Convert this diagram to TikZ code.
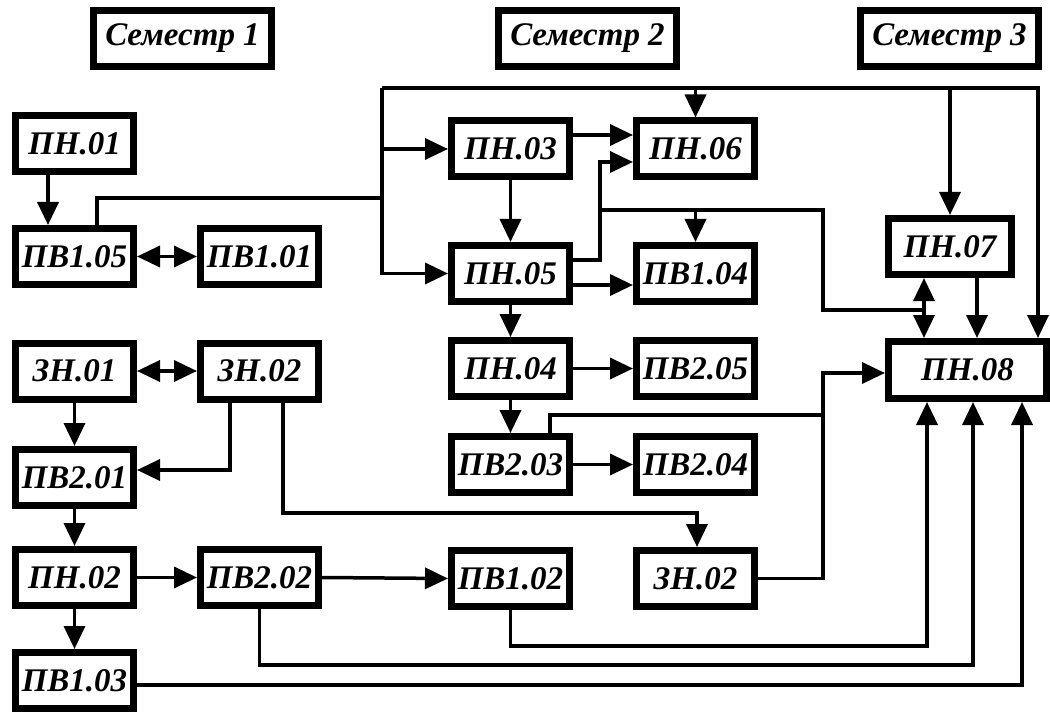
\documentclass[tikz,border=0pt]{standalone}
\usepackage{fontspec}
\setmainfont{Liberation Serif}
\usetikzlibrary{arrows.meta}
\begin{document}
\begin{tikzpicture}[x=1pt,y=-1pt,
  box/.style={draw, line width=7pt, fill=white, inner sep=0pt,
    minimum width=118pt, minimum height=56pt,
    font=\fontsize{33}{36}\selectfont\bfseries\itshape},
  sem/.style={box, minimum width=178pt},
  wire/.style={line width=3.5pt},
  arr/.style={wire, -{Triangle[length=23pt,width=21pt]}},
  darr/.style={wire, {Triangle[length=23pt,width=21pt]}-{Triangle[length=23pt,width=21pt]}}]
\useasboundingbox (0,0) rectangle (1050,714);
% semesters
\node[sem] (s1) at (182.5,38.5) {Семестр 1};
\node[sem] (s2) at (587.5,38.5) {Семестр 2};
\node[sem] (s3) at (949.5,38.5) {Семестр 3};
% column 1
\node[box] (pn01)  at (74.5,143.5) {ПН.01};
\node[box] (pv105) at (74.5,256.5) {ПВ1.05};
\node[box] (zn01)  at (74.5,371)   {ЗН.01};
\node[box] (pv201) at (74.5,477.5) {ПВ2.01};
\node[box] (pn02)  at (74.5,577.5) {ПН.02};
\node[box] (pv103) at (74.5,680.5) {ПВ1.03};
% column 2
\node[box] (pv101) at (259.5,256.5) {ПВ1.01};
\node[box] (zn02)  at (259.5,371)   {ЗН.02};
\node[box] (pv202) at (259.5,577.5) {ПВ2.02};
% column 3
\node[box] (pn03)  at (510.5,149)   {ПН.03};
\node[box] (pn05)  at (510.5,273.5) {ПН.05};
\node[box] (pn04)  at (510.5,368.5) {ПН.04};
\node[box] (pv203) at (510.5,464.5) {ПВ2.03};
\node[box] (pv102) at (510.5,578.5) {ПВ1.02};
% column 4
\node[box] (pn06)  at (695.5,149)   {ПН.06};
\node[box] (pv104) at (695.5,273.5) {ПВ1.04};
\node[box] (pv205) at (695.5,368.5) {ПВ2.05};
\node[box] (pv204) at (695.5,464.5) {ПВ2.04};
\node[box] (zn02b) at (695.5,578.5) {ЗН.02};
% column 5
\node[box, minimum width=123pt] (pn07) at (950,246.5) {ПН.07};
\node[box, minimum width=158pt, minimum height=57pt] (pn08) at (967.5,370) {ПН.08};
% bus and connectors
\coordinate (bt) at (382,88);
\draw[arr] (bt) |- (pn05.west);
\draw[arr] (pn03.west -| bt) -- (pn03.west);
\draw[wire] (pv105.north -| 97,0) |- (382,198);
\draw[arr] (bt) -| (pn08.north -| 1038,0);
\draw[arr] (pn06.north |- bt) -- (pn06.north);
\draw[arr] (pn07.north |- bt) -- (pn07.north);
\draw[arr] (pn01.south -| 48,0) -- (pv105.north -| 48,0);
\draw[darr] (pv105.east) -- (pv101.west);
\draw[arr] (pn03.east |- 0,135) -- (pn06.west |- 0,135);
\draw[arr] (pn03.south) -- (pn05.north);
\draw[arr] (pn05.east |- 0,260) -| (600,162) -- (pn06.west |- 0,162);
\draw[arr] (pv104.north |- 0,210) -- (pv104.north);
\draw[wire] (600,210) -| (823,310) -- (924,310);
\draw[darr] (pn07.south -| 924,0) -- (pn08.north -| 924,0);
\draw[arr] (pn07.south -| 977,0) -- (pn08.north -| 977,0);
\draw[arr] (pn05.east |- 0,285) -- (pv104.west |- 0,285);
\draw[arr] (pn05.south) -- (pn04.north);
\draw[arr] (pn04.east) -- (pv205.west);
\draw[arr] (pn04.south) -- (pv203.north);
\draw[arr] (pv203.east) -- (pv204.west);
\draw[wire] (pv203.north -| 550,0) |- (823,415);
\draw[arr] (zn02b.east) -| (823,373) -- (pn08.west |- 0,373);
\draw[darr] (zn01.east) -- (zn02.west);
\draw[arr] (zn01.south) -- (pv201.north);
\draw[arr] (zn02.south -| 230,0) |- (pv201.east |- 0,470);
\draw[arr] (zn02.south -| 283,0) |- (697,513) -- (zn02b.north -| 697,0);
\draw[arr] (pv201.south) -- (pn02.north);
\draw[arr] (pn02.east) -- (pv202.west);
\draw[arr] (pv202.east) -- (pv102.west);
\draw[arr] (pn02.south) -- (pv103.north);
\draw[arr] (pv102.south) |- (927,646) -- (pn08.south -| 927,0);
\draw[arr] (pv202.south) |- (973,665) -- (pn08.south -| 973,0);
\draw[arr] (pv103.east |- 0,685) -| (pn08.south -| 1022,0);
\end{tikzpicture}
\end{document}
